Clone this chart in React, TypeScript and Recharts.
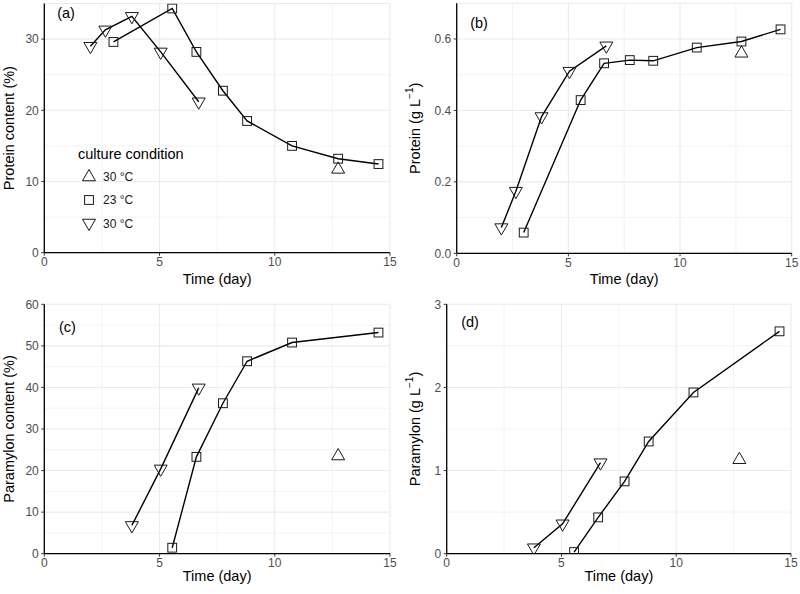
import React from "react";
import { ComposedChart, Line, XAxis, YAxis, CartesianGrid, ReferenceLine } from "recharts";

// ---- data ----
const time23All = [3.0, 5.55, 6.6, 7.75, 8.8, 10.75, 12.75, 14.5];
const time30All = [2.0, 2.65, 3.8, 5.05, 6.7];
const time23Para = [5.55, 6.6, 7.75, 8.8, 10.75, 14.5];
const time30Para = [3.8, 5.05, 6.7];
const timeUp = [12.75];

const proteinContent23 = [29.6, 34.3, 28.2, 22.75, 18.5, 15.0, 13.2, 12.45];
const proteinContent30 = [29.0, 31.3, 33.2, 28.2, 21.2];
const proteinContentUp = [11.7];

const protein23 = [0.058, 0.429, 0.532, 0.541, 0.539, 0.576, 0.593, 0.627];
const protein30 = [0.072, 0.174, 0.383, 0.51, 0.581];
const proteinUp = [0.56];

const paramylonContent23 = [1.44, 23.3, 36.2, 46.3, 50.8, 53.2];
const paramylonContent30 = [6.8, 20.4, 39.9];
const paramylonContentUp = [23.5];

const paramylon23 = [0.02, 0.437, 0.87, 1.35, 1.94, 2.675];
const paramylon30 = [0.072, 0.36, 1.095];
const paramylonUp = [1.13];

const xTicks = [0, 5, 10, 15];
const xMinor = [2.5, 7.5, 12.5];

const legendTitle = "culture condition";
const legendLabels = ["30 °C", "23 °C", "30 °C"];

const FONT = '"Liberation Sans", Arial, Helvetica, sans-serif';

const zip = (xs: number[], ys: number[]) => xs.map((x, i) => ({ x, y: ys[i] }));

// ---- marker shapes ----
const MS = "#1a1a1a";
const SquareShape = (cx: number, cy: number, key?: any) => (
  <rect key={key} x={cx - 4.4} y={cy - 4.4} width={8.8} height={8.8} fill="none" stroke={MS} strokeWidth={1} />
);
const TriUp = (cx: number, cy: number, key?: any) => (
  <path key={key} d={`M${cx},${cy - 7.5}L${cx + 6.5},${cy + 3.75}L${cx - 6.5},${cy + 3.75}Z`} fill="none" stroke={MS} strokeWidth={1} />
);
const TriDown = (cx: number, cy: number, key?: any) => (
  <path key={key} d={`M${cx},${cy + 7.5}L${cx + 6.5},${cy - 3.75}L${cx - 6.5},${cy - 3.75}Z`} fill="none" stroke={MS} strokeWidth={1} />
);

const dotFn = (fn: (cx: number, cy: number, key?: any) => React.ReactElement) => (p: any) => {
  if (p.cx == null || p.cy == null) return <g key={p.key} />;
  return fn(p.cx, p.cy, p.key);
};

type PanelProps = {
  left: number;
  top: number;
  plotLeft: number;
  plotRight: number;
  plotTop: number;
  plotBottom: number;
  yDomain: [number, number];
  yTicks: number[];
  yMinor: number[];
  yFmt: (v: number) => string;
  yTitle: React.ReactNode;
  yTitleX: number;
  tag: string;
  tagX: number;
  tagY: number;
  d23: { x: number; y: number }[];
  d30: { x: number; y: number }[];
  dUp: { x: number; y: number }[];
  legend?: boolean;
};

const CW = 400;
const CH = 297;

function Panel(p: PanelProps) {
  const xAxisH = CH - p.plotBottom;
  const plotMidY = (p.plotTop + p.plotBottom) / 2;
  const plotMidX = (p.plotLeft + p.plotRight) / 2;
  return (
    <div style={{ position: "absolute", left: p.left, top: p.top, width: CW, height: CH }}>
      <ComposedChart
        width={CW}
        height={CH}
        margin={{ top: p.plotTop, right: CW - p.plotRight, bottom: 0, left: 0 }}
        style={{ fontFamily: FONT }}
      >
        <CartesianGrid stroke="#ebebeb" strokeWidth={1.1} />
        {xMinor.map((v) => (
          <ReferenceLine key={"xm" + v} x={v} stroke="#ebebeb" strokeWidth={0.6} />
        ))}
        {p.yMinor.map((v) => (
          <ReferenceLine key={"ym" + v} y={v} stroke="#ebebeb" strokeWidth={0.6} />
        ))}
        <XAxis
          type="number"
          dataKey="x"
          domain={[0, 15]}
          ticks={xTicks}
          allowDataOverflow
          height={xAxisH}
          stroke="#000"
          strokeWidth={1.3}
          tickSize={3}
          tickMargin={2}
          tick={{ fill: "#4d4d4d", fontSize: 12, fontFamily: FONT }}
          tickLine={{ stroke: "#333", strokeWidth: 1 }}
          label={{
            content: () => (
              <text x={plotMidX} y={284} textAnchor="middle" fontSize={14.5} fontFamily={FONT} fill="#000">
                Time (day)
              </text>
            ),
          }}
        />
        <YAxis
          type="number"
          dataKey="y"
          domain={p.yDomain}
          ticks={p.yTicks}
          allowDataOverflow
          width={p.plotLeft}
          stroke="#000"
          strokeWidth={1.3}
          tickSize={3}
          tickMargin={2.5}
          tickFormatter={p.yFmt}
          tick={{ fill: "#4d4d4d", fontSize: 12, fontFamily: FONT }}
          tickLine={{ stroke: "#333", strokeWidth: 1 }}
          label={{
            content: () => (
              <text
                x={p.yTitleX}
                y={plotMidY}
                transform={`rotate(-90 ${p.yTitleX} ${plotMidY})`}
                textAnchor="middle"
                dominantBaseline="central"
                fontSize={14.5}
                fontFamily={FONT}
                fill="#000"
              >
                {p.yTitle}
              </text>
            ),
          }}
        />
        <Line
          data={p.d30}
          dataKey="y"
          type="linear"
          stroke="#000"
          strokeWidth={1.4}
          dot={dotFn(TriDown)}
          activeDot={false}
          isAnimationActive={false}
        />
        <Line
          data={p.d23}
          dataKey="y"
          type="linear"
          stroke="#000"
          strokeWidth={1.4}
          dot={dotFn(SquareShape)}
          activeDot={false}
          isAnimationActive={false}
        />
        <Line
          data={p.dUp}
          dataKey="y"
          type="linear"
          stroke="none"
          dot={dotFn(TriUp)}
          activeDot={false}
          isAnimationActive={false}
        />
      </ComposedChart>
      <div
        style={{
          position: "absolute",
          left: p.tagX,
          top: p.tagY,
          transform: "translate(-50%, -50%)",
          fontFamily: FONT,
          fontSize: 14.5,
          color: "#000",
          lineHeight: 1,
        }}
      >
        {p.tag}
      </div>
      {p.legend && (
        <svg style={{ position: "absolute", left: 70, top: 140 }} width={120} height={95}>
          <text x={8} y={19} fontSize={14.5} fontFamily={FONT} fill="#000">
            {legendTitle}
          </text>
          {TriUp(19, 37)}
          {SquareShape(19, 60)}
          {TriDown(19, 83)}
          {legendLabels.map((l, i) => (
            <text key={i} x={33} y={37 + i * 23.3} dominantBaseline="central" fontSize={12} fontFamily={FONT} fill="#1a1a1a">
              {l}
            </text>
          ))}
        </svg>
      )}
    </div>
  );
}

const gL = (name: string) => (
  <>
    {name} (g L
    <tspan baselineShift="super" fontSize={10}>
      −1
    </tspan>
    )
  </>
);

export default function App() {
  return (
    <div style={{ position: "absolute", left: 0, top: 0, width: 800, height: 594, background: "#fff" }}>
      <Panel
        left={0}
        top={0}
        plotLeft={44.3}
        plotRight={390}
        plotTop={3.5}
        plotBottom={252.7}
        yDomain={[0, 35]}
        yTicks={[0, 10, 20, 30]}
        yMinor={[5, 15, 25]}
        yFmt={(v) => String(v)}
        yTitle="Protein content (%)"
        yTitleX={9}
        tag="(a)"
        tagX={66}
        tagY={13}
        d23={zip(time23All, proteinContent23)}
        d30={zip(time30All, proteinContent30)}
        dUp={zip(timeUp, proteinContentUp)}
        legend
      />
      <Panel
        left={400}
        top={0}
        plotLeft={56.7}
        plotRight={391.7}
        plotTop={3.3}
        plotBottom={253.3}
        yDomain={[0, 0.7]}
        yTicks={[0, 0.2, 0.4, 0.6]}
        yMinor={[0.1, 0.3, 0.5]}
        yFmt={(v) => v.toFixed(1)}
        yTitle={gL("Protein")}
        yTitleX={15}
        tag="(b)"
        tagX={79}
        tagY={23}
        d23={zip(time23All, protein23)}
        d30={zip(time30All, protein30)}
        dUp={zip(timeUp, proteinUp)}
      />
      <Panel
        left={0}
        top={297}
        plotLeft={44.3}
        plotRight={390}
        plotTop={7.3}
        plotBottom={256.7}
        yDomain={[0, 60]}
        yTicks={[0, 10, 20, 30, 40, 50, 60]}
        yMinor={[5, 15, 25, 35, 45, 55]}
        yFmt={(v) => String(v)}
        yTitle="Paramylon content (%)"
        yTitleX={9}
        tag="(c)"
        tagX={67.5}
        tagY={30}
        d23={zip(time23Para, paramylonContent23)}
        d30={zip(time30Para, paramylonContent30)}
        dUp={zip(timeUp, paramylonContentUp)}
      />
      <Panel
        left={400}
        top={297}
        plotLeft={46.7}
        plotRight={391}
        plotTop={7.3}
        plotBottom={256.7}
        yDomain={[0, 3]}
        yTicks={[0, 1, 2, 3]}
        yMinor={[0.5, 1.5, 2.5]}
        yFmt={(v) => String(v)}
        yTitle={gL("Paramylon")}
        yTitleX={15}
        tag="(d)"
        tagX={70}
        tagY={25}
        d23={zip(time23Para, paramylon23)}
        d30={zip(time30Para, paramylon30)}
        dUp={zip(timeUp, paramylonUp)}
      />
    </div>
  );
}
